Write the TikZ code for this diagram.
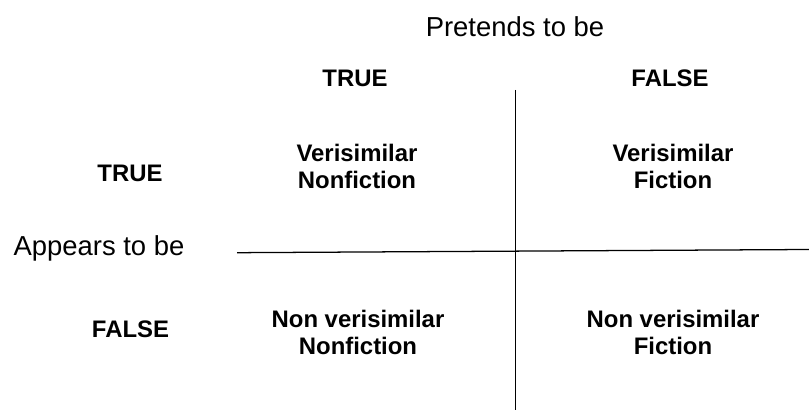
\documentclass[tikz,border=0pt]{standalone}
\usepackage{fontspec}
\setmainfont{Liberation Sans}
\usetikzlibrary{positioning}
\tikzset{every path/.style={black,line width=0.9pt}, axis label/.style={font=\fontsize{19.5}{23}\selectfont, inner sep=0pt, anchor=base}, head label/.style={font=\fontsize{17}{19.4}\selectfont\bfseries, inner sep=0pt, anchor=base}, cell label/.style={head label, align=center}}

\begin{document}
\begin{tikzpicture}[x=0.025cm,y=-0.025cm]
   \useasboundingbox (0,0) rectangle (809,411);
   % axis titles
   \node[axis label] (pretends) at (515,37) {Pretends to be};
   \node[axis label] (appears) at (99,256) {Appears to be};
   % column and row headings
   \node[head label] (coltrue) at (355,87) {TRUE};
   \node[head label] (colfalse) at (670,87) {FALSE};
   \node[head label] (rowtrue) at (130,182) {TRUE};
   \node[head label] (rowfalse) at (130.5,338) {FALSE};
   % the four cells (base = last line)
   \node[cell label] (vnf) at (357,189) {Verisimilar\\Nonfiction};
   \node[cell label] (vf) at (673,189) {Verisimilar\\Fiction};
   \node[cell label] (nvnf) at (358,355) {Non verisimilar\\Nonfiction};
   \node[cell label] (nvf) at (673,355) {Non verisimilar\\Fiction};
   % dividing lines
   \coordinate (vtop) at (515.3,90);
   \coordinate (vbot) at (515.3,410);
   \coordinate (hleft) at (237,252.7);
   \coordinate (hright) at (809,249.5);
   \draw (vtop) -- (vbot);
   \draw (hleft) -- (hright);
  \end{tikzpicture}
\end{document}
